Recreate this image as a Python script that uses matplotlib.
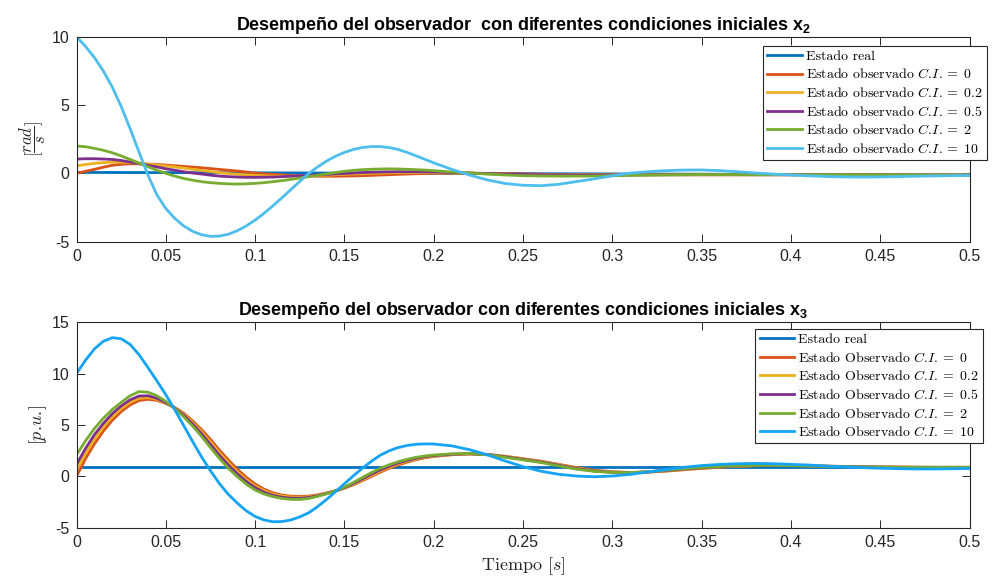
import numpy as np
import matplotlib
matplotlib.use('Agg')
import matplotlib.pyplot as plt
from matplotlib.ticker import FuncFormatter

plt.rcParams['mathtext.fontset'] = 'cm'
plt.rcParams['mathtext.bf'] = 'Liberation Sans:bold'
plt.rcParams['axes.unicode_minus'] = False
plt.rcParams['font.family'] = ['Liberation Sans', 'DejaVu Sans']

# ---------------- data ----------------
# sample times (0..0.2 every 0.005 s, then every 0.01 s)
t = np.round(np.concatenate([np.arange(0, 0.2001, 0.005), np.arange(0.21, 0.5001, 0.01)]), 3)
t_real = [0.0, 0.1, 0.2, 0.3, 0.4, 0.5]

x2_real = [0.07, 0.04, 0.0, -0.04, -0.08, -0.12]
x2_ci0 = [0.0, 0.15, 0.29, 0.45, 0.59, 0.66, 0.7, 0.7, 0.68, 0.65, 0.61, 0.56, 0.51, 0.46, 0.41,
          0.35, 0.29, 0.23, 0.17, 0.1, 0.02, -0.03, -0.07, -0.11, -0.15, -0.18, -0.2, -0.21, -0.21,
          -0.21, -0.2, -0.19, -0.17, -0.15, -0.12, -0.1, -0.07, -0.05, -0.03, -0.01, 0.0,
          0.02, 0.02, 0.0, -0.02, -0.04, -0.06, -0.08, -0.09, -0.1, -0.1, -0.1, -0.1, -0.1, -0.1,
          -0.1, -0.1, -0.1, -0.1, -0.1, -0.1, -0.1, -0.11, -0.11, -0.11, -0.11, -0.11, -0.12,
          -0.12, -0.12, -0.12]
x2_ci02 = [0.54, 0.65, 0.73, 0.79, 0.82, 0.82, 0.8, 0.75, 0.68, 0.61, 0.54, 0.47, 0.39, 0.3, 0.22,
           0.13, 0.05, -0.01, -0.07, -0.11, -0.15, -0.18, -0.2, -0.2, -0.2, -0.19, -0.17, -0.15,
           -0.13, -0.1, -0.07, -0.04, -0.02, 0.0, 0.02, 0.04, 0.05, 0.06, 0.06, 0.06, 0.05,
           0.03, 0.0, -0.03, -0.06, -0.08, -0.1, -0.11, -0.11, -0.11, -0.11, -0.1, -0.1, -0.1, -0.1,
           -0.1, -0.1, -0.1, -0.1, -0.1, -0.1, -0.1, -0.11, -0.11, -0.11, -0.11, -0.11, -0.12,
           -0.12, -0.12, -0.12]
x2_ci05 = [1.05, 1.07, 1.07, 1.05, 1.02, 0.94, 0.83, 0.72, 0.59, 0.47, 0.34, 0.23, 0.12, 0.03, -0.05,
           -0.13, -0.2, -0.24, -0.27, -0.29, -0.29, -0.28, -0.27, -0.24, -0.2, -0.17, -0.14, -0.11,
           -0.08, -0.04, -0.01, 0.03, 0.06, 0.08, 0.1, 0.11, 0.12, 0.12, 0.12, 0.11, 0.1,
           0.06, 0.02, -0.02, -0.05, -0.08, -0.1, -0.11, -0.12, -0.12, -0.12, -0.11, -0.11, -0.1,
           -0.1, -0.1, -0.1, -0.1, -0.1, -0.1, -0.1, -0.1, -0.11, -0.11, -0.11, -0.11, -0.11, -0.12,
           -0.12, -0.12, -0.12]
x2_ci2 = [2.0, 1.95, 1.83, 1.69, 1.51, 1.28, 1.02, 0.75, 0.49, 0.23, 0.0, -0.2, -0.37, -0.5, -0.61,
          -0.68, -0.73, -0.77, -0.78, -0.77, -0.73, -0.68, -0.61, -0.53, -0.44, -0.34, -0.24, -0.14,
          -0.04, 0.06, 0.15, 0.22, 0.27, 0.3, 0.32, 0.33, 0.32, 0.3, 0.27, 0.24, 0.2,
          0.1, 0.03, -0.05, -0.12, -0.17, -0.19, -0.2, -0.2, -0.19, -0.17, -0.15, -0.13, -0.11,
          -0.1, -0.09, -0.09, -0.09, -0.1, -0.1, -0.1, -0.1, -0.1, -0.1, -0.11, -0.11, -0.11, -0.11,
          -0.12, -0.12, -0.12]
x2_ci10 = [10.0, 9.3, 8.48, 7.5, 6.32, 4.9, 3.28, 1.56, -0.12, -1.57, -2.57, -3.29, -3.84, -4.24,
           -4.49, -4.61, -4.59, -4.45, -4.2, -3.85, -3.42, -2.92, -2.37, -1.79, -1.19, -0.59, -0.01,
           0.47, 0.9, 1.25, 1.53, 1.75, 1.89, 1.96, 1.96, 1.89, 1.75, 1.54, 1.29, 1.03, 0.77,
           0.3, -0.12, -0.48, -0.74, -0.87, -0.9, -0.8, -0.6, -0.4, -0.18, 0.02, 0.12, 0.2, 0.24,
           0.25, 0.2, 0.12, 0.03, -0.05, -0.12, -0.18, -0.23, -0.26, -0.27, -0.26, -0.24, -0.21,
           -0.19, -0.17, -0.15]

x3_real = [0.88, 0.88, 0.88, 0.88, 0.88, 0.88]
x3_ci0 = [0.0, 1.7, 3.15, 4.4, 5.45, 6.3, 6.95, 7.38, 7.5, 7.4, 7.1, 6.7, 6.15, 5.4, 4.55,
          3.6, 2.55, 1.6, 0.7, -0.08, -0.75, -1.25, -1.6, -1.82, -1.93, -1.96, -1.92, -1.8, -1.62,
          -1.4, -1.15, -0.82, -0.43, -0.02, 0.4, 0.78, 1.1, 1.38, 1.62, 1.8, 1.94,
          2.1, 2.18, 2.14, 1.96, 1.72, 1.48, 1.17, 0.86, 0.6, 0.45, 0.38, 0.41, 0.51, 0.64, 0.77,
          0.88, 0.97, 1.03, 1.05, 1.05, 1.03, 1.0, 0.97, 0.94, 0.92, 0.9, 0.89, 0.88, 0.88, 0.88]
x3_ci02 = [0.6, 2.2, 3.6, 4.8, 5.8, 6.6, 7.2, 7.6, 7.68, 7.5, 7.15, 6.68, 6.05, 5.25, 4.35,
           3.35, 2.3, 1.35, 0.45, -0.3, -0.93, -1.4, -1.73, -1.92, -2.02, -2.04, -1.99, -1.85,
           -1.65, -1.42, -1.13, -0.77, -0.35, 0.08, 0.5, 0.88, 1.2, 1.47, 1.69, 1.86, 1.98,
           2.12, 2.19, 2.13, 1.93, 1.69, 1.44, 1.13, 0.81, 0.56, 0.42, 0.37, 0.42, 0.53, 0.67, 0.8,
           0.91, 0.99, 1.04, 1.06, 1.05, 1.03, 0.99, 0.96, 0.93, 0.91, 0.9, 0.89, 0.88, 0.88, 0.88]
x3_ci05 = [1.15, 2.7, 4.05, 5.15, 6.1, 6.85, 7.45, 7.82, 7.85, 7.6, 7.2, 6.65, 5.95, 5.1, 4.15,
           3.1, 2.05, 1.1, 0.25, -0.5, -1.1, -1.55, -1.85, -2.03, -2.12, -2.13, -2.06, -1.9, -1.68,
           -1.42, -1.1, -0.7, -0.25, 0.2, 0.62, 0.98, 1.3, 1.55, 1.76, 1.92, 2.02,
           2.15, 2.2, 2.12, 1.9, 1.65, 1.4, 1.08, 0.76, 0.52, 0.4, 0.37, 0.43, 0.56, 0.7, 0.83,
           0.93, 1.01, 1.05, 1.06, 1.05, 1.02, 0.98, 0.95, 0.92, 0.9, 0.89, 0.88, 0.88, 0.88, 0.88]
x3_ci2 = [2.08, 3.45, 4.65, 5.65, 6.5, 7.2, 7.85, 8.25, 8.2, 7.85, 7.3, 6.6, 5.8, 4.9, 3.9,
          2.8, 1.75, 0.8, -0.03, -0.75, -1.33, -1.72, -1.98, -2.15, -2.24, -2.25, -2.15, -1.95,
          -1.7, -1.4, -1.05, -0.6, -0.12, 0.35, 0.78, 1.12, 1.42, 1.65, 1.85, 1.98, 2.07,
          2.2, 2.22, 2.1, 1.85, 1.6, 1.35, 1.02, 0.7, 0.48, 0.38, 0.37, 0.45, 0.6, 0.74, 0.86,
          0.96, 1.03, 1.06, 1.06, 1.04, 1.0, 0.97, 0.94, 0.91, 0.89, 0.88, 0.88, 0.88, 0.88, 0.88]
x3_ci10 = [10.0, 11.3, 12.4, 13.15, 13.5, 13.4, 12.85, 11.85, 10.6, 9.3, 7.95, 6.5, 4.95, 3.4, 1.9,
           0.55, -0.7, -1.75, -2.6, -3.35, -3.9, -4.25, -4.42, -4.4, -4.25, -3.95, -3.55, -2.95,
           -2.25, -1.5, -0.72, 0.05, 0.78, 1.45, 2.05, 2.48, 2.8, 3.0, 3.12, 3.16, 3.15,
           2.97, 2.6, 2.1, 1.5, 0.95, 0.5, 0.2, 0.03, -0.04, 0.03, 0.19, 0.43, 0.66, 0.88, 1.05,
           1.16, 1.23, 1.26, 1.23, 1.17, 1.1, 1.0, 0.92, 0.85, 0.79, 0.75, 0.72, 0.72, 0.74, 0.77]

xticks = [0, 0.05, 0.1, 0.15, 0.2, 0.25, 0.3, 0.35, 0.4, 0.45, 0.5]
yticks_top = [-5, 0, 5, 10]
yticks_bot = [-5, 0, 5, 10, 15]

ci_values = ['0', '0.2', '0.5', '2', '10']

# ---------------- style ----------------
c_real = '#0072BD'
c_obs = ['#D95319', '#EDB120', '#7E2F8E', '#77AC30']
c_top10 = '#4DBEEE'
c_bot10 = '#14A3F5'
axc = '#262626'
LW = 2.0
CM = ['cmr10', 'DejaVu Serif']

fig = plt.figure(figsize=(9.97, 5.78), dpi=100)
W, H = 997, 578


def make_ax(left, right, top, bottom):
    return fig.add_axes([left / W, 1 - bottom / H, (right - left) / W, (bottom - top) / H])


ax1 = make_ax(76.5, 969.5, 36.7, 241.7)
ax2 = make_ax(76.5, 969.5, 322.3, 527.7)


def style(ax, yt, ylim):
    ax.set_xlim(0, 0.5)
    ax.set_ylim(*ylim)
    ax.set_xticks(xticks)
    ax.set_yticks(yt)
    ax.xaxis.set_major_formatter(FuncFormatter(lambda v, p: '%g' % v))
    ax.yaxis.set_major_formatter(FuncFormatter(lambda v, p: '%g' % v))
    ax.tick_params(direction='in', length=5.5, width=0.7, colors=axc, labelsize=11.5,
                   top=True, right=True, pad=5)
    for s in ax.spines.values():
        s.set_color(axc)
        s.set_linewidth(0.8)


def lab(word, ci):
    return r'Estado %s $C.\!I. =\;%s$' % (word, ci)


# top
ax1.plot(t_real, x2_real, color=c_real, lw=LW, label='Estado real')
top_obs = [x2_ci0, x2_ci02, x2_ci05, x2_ci2]
for ys, c, ci in zip(top_obs, c_obs, ci_values):
    ax1.plot(t, ys, color=c, lw=LW, label=lab('observado', ci))
ax1.plot(t, x2_ci10, color=c_top10, lw=LW, label=lab('observado', ci_values[4]))
style(ax1, yticks_top, (-5, 10))
ax1.set_title(r'Desempeño del observador  con diferentes condiciones iniciales $\mathbf{x_2}$',
              fontsize=12.9, fontweight='bold', math_fontfamily='custom', pad=5)
ax1.set_ylabel(r'$[\dfrac{rad}{s}]$', fontsize=12, color=axc, labelpad=3)

# bottom
ax2.plot(t_real, x3_real, color=c_real, lw=LW, label='Estado real')
bot_obs = [x3_ci0, x3_ci02, x3_ci05, x3_ci2]
for ys, c, ci in zip(bot_obs, c_obs, ci_values):
    ax2.plot(t, ys, color=c, lw=LW, label=lab('Observado', ci))
ax2.plot(t, x3_ci10, color=c_bot10, lw=LW, label=lab('Observado', ci_values[4]))
style(ax2, yticks_bot, (-5, 15))
ax2.set_title(r'Desempeño del observador con diferentes condiciones iniciales $\mathbf{x_3}$',
              fontsize=12.9, fontweight='bold', math_fontfamily='custom', pad=5)
ax2.set_ylabel(r'$[p.\!u.\!]$', fontsize=13, color=axc, labelpad=2)
ax2.set_xlabel(r'Tiempo $[s]$', fontsize=13, color=axc, labelpad=4, family=CM)

legkw = dict(bbox_transform=fig.transFigure, borderaxespad=0,
             prop={'family': CM, 'size': 10.0}, frameon=True, fancybox=False,
             framealpha=1, edgecolor=axc,
             handlelength=2.5, handletextpad=0.3, labelspacing=0.33, borderpad=0.3)
l1 = ax1.legend(loc='upper left', bbox_to_anchor=(763.3 / W, 1 - 46 / H), **legkw)
l2 = ax2.legend(loc='upper right', bbox_to_anchor=(983.0 / W, 1 - 329.3 / H), **legkw)
for lg in (l1, l2):
    lg.get_frame().set_linewidth(0.8)

fig.savefig('out.png', dpi=100)
